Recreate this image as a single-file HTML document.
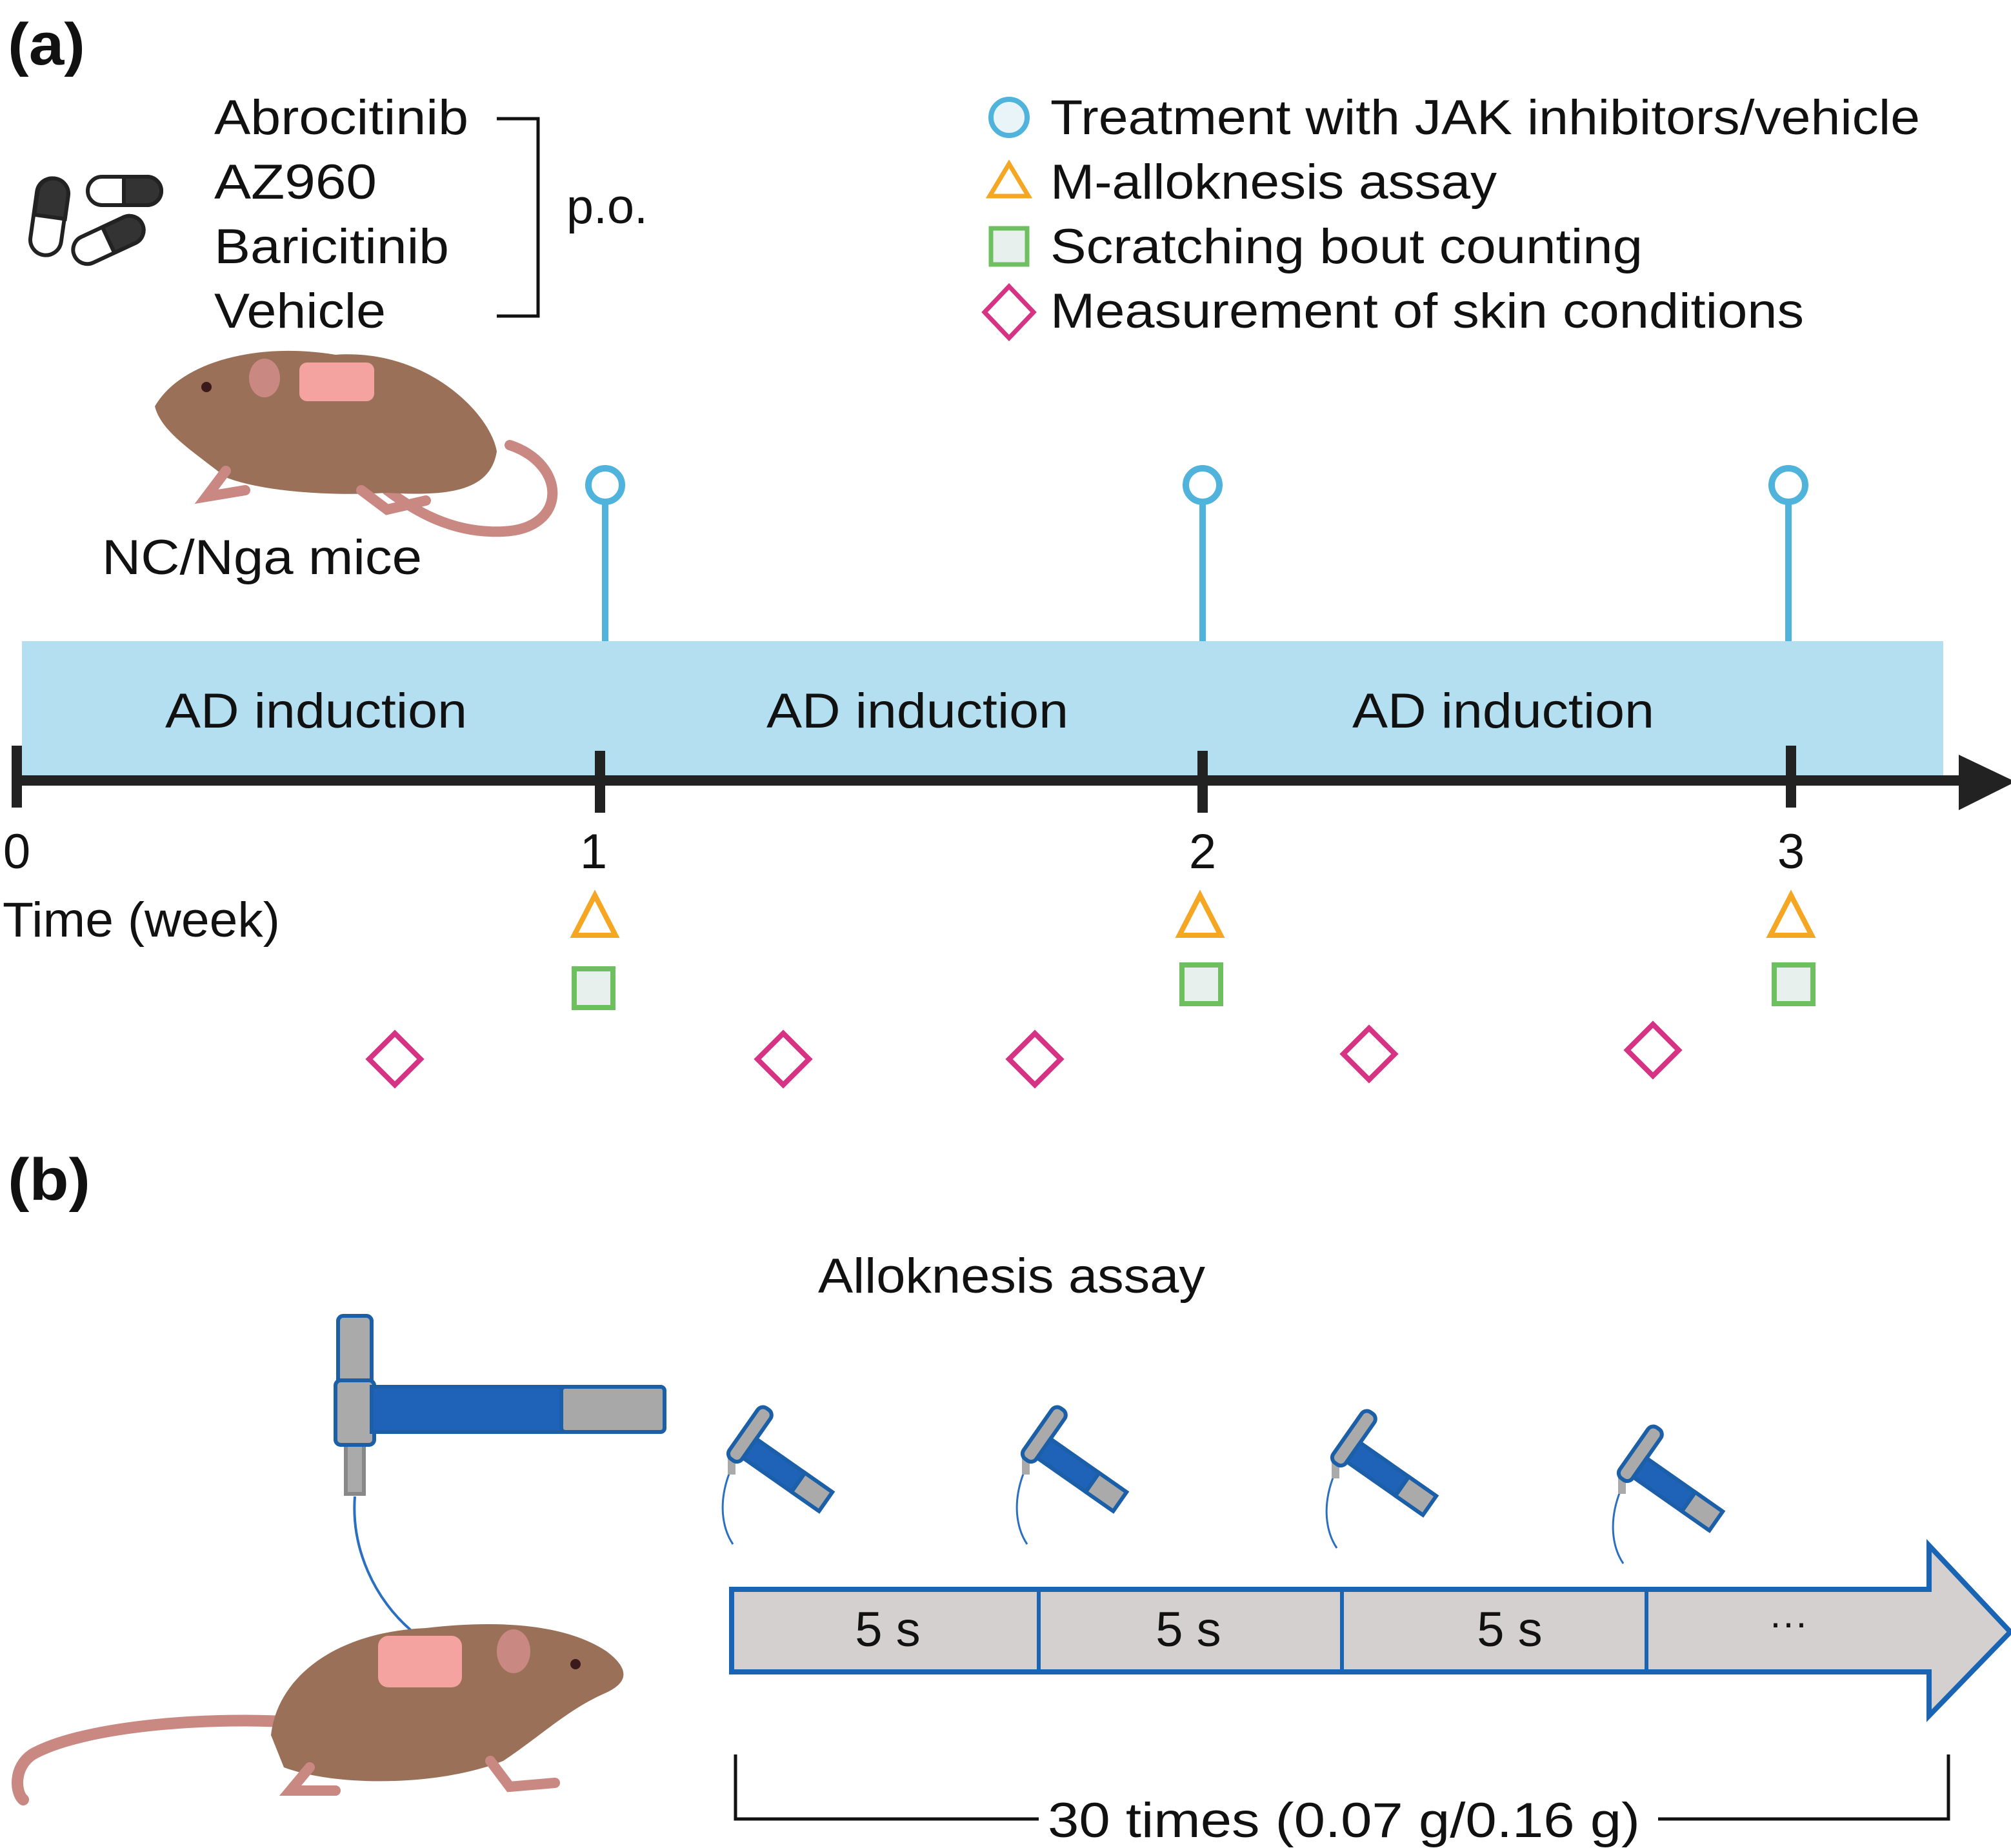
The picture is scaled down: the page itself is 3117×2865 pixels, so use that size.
<!DOCTYPE html>
<html><head><meta charset="utf-8"><style>
html,body{margin:0;padding:0;background:#fff;}
svg{display:block;}
text{font-family:"Liberation Sans",sans-serif;fill:#111;}
</style></head><body>
<svg width="3117" height="2865" viewBox="0 0 1558.5 1432.5" xmlns="http://www.w3.org/2000/svg">
<text x="6" y="50" font-size="46" font-weight="bold" textLength="60" lengthAdjust="spacingAndGlyphs">(a)</text>
<g stroke="#222" stroke-width="3">
<rect x="26" y="138" width="24" height="60" rx="12" fill="#fff" transform="rotate(8 38 168)"/>
<path d="M26.5 168 v-18 a12 12 0 0 1 24 0 v18 z" fill="#333" transform="rotate(8 38 168)"/>
<rect x="68" y="137" width="57" height="22" rx="11" fill="#fff"/>
<path d="M96 137 h18 a11 11 0 0 1 0 22 h-18 z" fill="#333"/>
<rect x="55" y="175" width="58" height="22" rx="11" fill="#fff" transform="rotate(-25 84 186)"/>
<path d="M84 175 h18 a11 11 0 0 1 0 22 h-18 z" fill="#333" transform="rotate(-25 84 186)"/>
</g>
<g font-size="38" lengthAdjust="spacingAndGlyphs">
<text x="166" y="104" textLength="197" lengthAdjust="spacingAndGlyphs">Abrocitinib</text>
<text x="166" y="154" textLength="126" lengthAdjust="spacingAndGlyphs">AZ960</text>
<text x="166" y="204" textLength="182" lengthAdjust="spacingAndGlyphs">Baricitinib</text>
<text x="166" y="254" textLength="133" lengthAdjust="spacingAndGlyphs">Vehicle</text>
<text x="439" y="173" textLength="63" lengthAdjust="spacingAndGlyphs">p.o.</text>
</g>
<path d="M385 92 H417 V245 H385" fill="none" stroke="#111" stroke-width="2.5"/>
<circle cx="782" cy="91" r="14" fill="#e8f4f8" stroke="#4fb3dc" stroke-width="4"/>
<path d="M782 127 L797 152 L767 152 Z" fill="#fff" stroke="#f5a623" stroke-width="3.5"/>
<rect x="768" y="177" width="28" height="28" fill="#e8f0ee" stroke="#6dbf5f" stroke-width="3.5"/>
<path d="M782 222 L801 242 L782 262 L763 242 Z" fill="#fff" stroke="#d63384" stroke-width="3.5"/>
<g font-size="38">
<text x="814" y="104" textLength="674" lengthAdjust="spacingAndGlyphs">Treatment with JAK inhibitors/vehicle</text>
<text x="814" y="154" textLength="346" lengthAdjust="spacingAndGlyphs">M-alloknesis assay</text>
<text x="814" y="204" textLength="459" lengthAdjust="spacingAndGlyphs">Scratching bout counting</text>
<text x="814" y="254" textLength="584" lengthAdjust="spacingAndGlyphs">Measurement of skin conditions</text>
</g>
<g>
<path d="M395 345 C440 360 440 410 390 412 C350 414 320 395 300 380" fill="none" stroke="#c98882" stroke-width="8" stroke-linecap="round"/>
<path d="M120 315 C140 280 200 265 260 275 C330 270 380 320 385 350 C380 380 350 385 300 382 C250 385 200 380 175 370 C150 350 125 335 120 315 Z" fill="#9a7158"/>
<path d="M175 365 L160 385 L190 380 M280 380 L300 395 L330 388" stroke="#c98882" stroke-width="8" fill="none" stroke-linecap="round"/>
<ellipse cx="205" cy="293" rx="12" ry="15" fill="#c98882"/>
<rect x="232" y="281" width="58" height="30" rx="6" fill="#f4a3a0"/>
<circle cx="160" cy="300" r="4" fill="#3a1a1a"/>
</g>
<text x="79" y="445" font-size="38" textLength="248" lengthAdjust="spacingAndGlyphs">NC/Nga mice</text>
<rect x="17" y="497" width="1489" height="105" fill="#b3dff0"/>
<g font-size="38">
<text x="128" y="564" textLength="234" lengthAdjust="spacingAndGlyphs">AD induction</text>
<text x="594" y="564" textLength="234" lengthAdjust="spacingAndGlyphs">AD induction</text>
<text x="1048" y="564" textLength="234" lengthAdjust="spacingAndGlyphs">AD induction</text>
</g>
<g stroke="#4fb3dc" stroke-width="5" fill="#fff">
<line x1="469" y1="390" x2="469" y2="497"/><circle cx="469" cy="376" r="13"/>
<line x1="932" y1="390" x2="932" y2="497"/><circle cx="932" cy="376" r="13"/>
<line x1="1386" y1="390" x2="1386" y2="497"/><circle cx="1386" cy="376" r="13"/>
</g>
<line x1="12" y1="605" x2="1522" y2="605" stroke="#222" stroke-width="8"/>
<path d="M1518 585 L1562 606 L1518 628 Z" fill="#222"/>
<g stroke="#222" stroke-width="8">
<line x1="13" y1="578" x2="13" y2="626"/><line x1="465" y1="582" x2="465" y2="630"/>
<line x1="932" y1="582" x2="932" y2="630"/><line x1="1388" y1="578" x2="1388" y2="626"/>
</g>
<g font-size="38" text-anchor="middle">
<text x="13" y="673">0</text><text x="460" y="673">1</text><text x="932" y="673">2</text><text x="1388" y="673">3</text>
</g>
<text x="2" y="726" font-size="38" textLength="215" lengthAdjust="spacingAndGlyphs">Time (week)</text>
<g fill="#fff" stroke="#f5a623" stroke-width="4">
<path d="M461 694 L477 725 L445 725 Z"/><path d="M930 694 L946 725 L914 725 Z"/><path d="M1388 694 L1404 725 L1372 725 Z"/>
</g>
<g fill="#e8f0ee" stroke="#6dbf5f" stroke-width="4">
<rect x="445" y="751" width="30" height="30"/><rect x="916" y="748" width="30" height="30"/><rect x="1375" y="748" width="30" height="30"/>
</g>
<g fill="#fff" stroke="#d63384" stroke-width="4">
<path d="M306 801 L326 821 L306 841 L286 821 Z"/>
<path d="M607 801 L627 821 L607 841 L587 821 Z"/>
<path d="M802 801 L822 821 L802 841 L782 821 Z"/>
<path d="M1061 797 L1081 817 L1061 837 L1041 817 Z"/>
<path d="M1281 794 L1301 814 L1281 834 L1261 814 Z"/>
</g>
<text x="6" y="930" font-size="46" font-weight="bold" textLength="64" lengthAdjust="spacingAndGlyphs">(b)</text>
<text x="634" y="1002" font-size="38" textLength="300" lengthAdjust="spacingAndGlyphs">Alloknesis assay</text>
<g stroke="#1a5fa8" stroke-width="3">
<rect x="268" y="1120" width="14" height="38" fill="#aaa" stroke="#888"/>
<rect x="262" y="1020" width="26" height="100" rx="4" fill="#aaa"/>
<rect x="260" y="1070" width="30" height="50" rx="4" fill="#aaa"/>
<rect x="288" y="1075" width="148" height="35" fill="#1f63b8"/>
<rect x="435" y="1075" width="80" height="35" rx="3" fill="#a8a8a8"/>
</g>
<path d="M275 1160 C272 1200 290 1240 320 1265" fill="none" stroke="#2a6fc0" stroke-width="2"/>
<g>
<path d="M230 1335 C150 1330 60 1340 25 1360 C10 1370 12 1390 18 1395" fill="none" stroke="#c98882" stroke-width="9" stroke-linecap="round"/>
<path d="M210 1345 C215 1300 260 1265 330 1262 C390 1255 440 1260 470 1280 C490 1295 485 1305 470 1312 C440 1325 420 1345 390 1365 C340 1385 260 1385 220 1370 Z" fill="#9a7158"/>
<path d="M240 1370 L225 1388 L260 1388 M380 1365 L395 1385 L430 1382" stroke="#c98882" stroke-width="8" fill="none" stroke-linecap="round"/>
<ellipse cx="398" cy="1280" rx="13" ry="17" fill="#c98882"/>
<rect x="293" y="1268" width="65" height="40" rx="8" fill="#f4a3a0"/>
<circle cx="446" cy="1290" r="4" fill="#3a1a1a"/>
</g>
<defs>
<g id="h">
<path d="M4 55 C-6 80 -2 100 6 112" fill="none" stroke="#2a6fc0" stroke-width="1.5"/>
<rect x="2" y="42" width="6" height="16" fill="#aaa"/>
<g transform="rotate(35 10 40)">
<rect x="4" y="0" width="12" height="48" rx="5" fill="#aaa" stroke="#1a5fa8" stroke-width="3"/>
<rect x="16" y="24" width="70" height="18" fill="#1f63b8" stroke="#1a5fa8" stroke-width="3"/>
<rect x="62" y="24" width="26" height="18" fill="#aaa" stroke="#1a5fa8" stroke-width="3"/>
</g>
</g>
</defs>
<use href="#h" x="562" y="1085"/>
<use href="#h" x="790" y="1085"/>
<use href="#h" x="1030" y="1088"/>
<use href="#h" x="1252" y="1100"/>
<path d="M567 1232 H1495 V1198 L1558 1265 L1495 1330 V1296 H567 Z" fill="#d4d0d0" stroke="#1a64b4" stroke-width="4"/>
<g stroke="#1a64b4" stroke-width="3">
<line x1="805" y1="1232" x2="805" y2="1296"/><line x1="1040" y1="1232" x2="1040" y2="1296"/><line x1="1276" y1="1232" x2="1276" y2="1296"/>
</g>
<g font-size="38" text-anchor="middle">
<text x="688" y="1276">5 s</text><text x="921" y="1276">5 s</text><text x="1170" y="1276">5 s</text><text x="1386" y="1268" font-size="30">···</text>
</g>
<path d="M570 1360 V1410 H805 M1285 1410 H1510 V1360" fill="none" stroke="#111" stroke-width="2.5"/>
<text x="812" y="1424" font-size="38" textLength="459" lengthAdjust="spacingAndGlyphs">30 times (0.07 g/0.16 g)</text>
</svg>
</body></html>
